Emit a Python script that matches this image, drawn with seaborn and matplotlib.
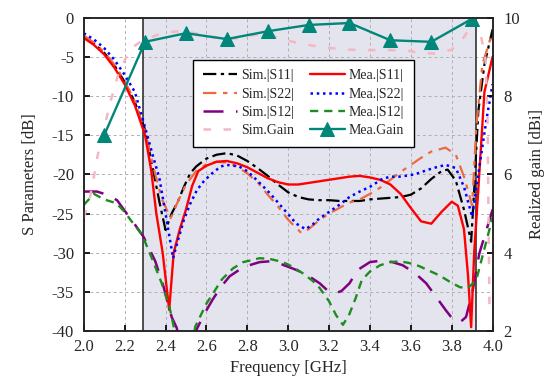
import numpy as np
import pandas as pd
import matplotlib
matplotlib.use("Agg")
import matplotlib.pyplot as plt
import seaborn as sns

# ---- data ----
f_sim_s11 = [2.0, 2.05, 2.1, 2.15, 2.2, 2.25, 2.3, 2.34, 2.37, 2.40, 2.43, 2.46, 2.49, 2.52, 2.55, 2.6, 2.65, 2.7,
             2.75, 2.8, 2.85, 2.9, 2.95, 3.0, 3.05, 3.1, 3.15, 3.2, 3.25, 3.3, 3.35, 3.4, 3.45, 3.5, 3.55, 3.6,
             3.65, 3.7, 3.75, 3.78, 3.82, 3.86, 3.895, 3.91, 3.93, 3.96, 4.0]
sim_s11 = [-2.4, -3.3, -4.5, -6.1, -8.2, -10.8, -14.3, -19.5, -23.5, -27.1, -25.0, -23.5, -21.6, -19.9, -19.0, -18.0,
           -17.5, -17.3, -17.6, -18.3, -19.2, -20.2, -21.3, -22.3, -22.9, -23.2, -23.3, -23.3, -23.4, -23.4, -23.4,
           -23.2, -23.1, -23.0, -22.9, -22.6, -21.8, -20.6, -19.6, -19.4, -20.8, -24.5, -28.6, -22.0, -12.0, -6.0, -1.5]

f_mea_s11 = [2.0, 2.05, 2.1, 2.15, 2.2, 2.25, 2.3, 2.33, 2.355, 2.386, 2.418, 2.44, 2.47, 2.5, 2.53, 2.56, 2.6, 2.65,
             2.7, 2.75, 2.8, 2.85, 2.9, 2.95, 3.0, 3.05, 3.1, 3.15, 3.2, 3.25, 3.3, 3.35, 3.4, 3.45, 3.5, 3.55, 3.6,
             3.65, 3.7, 3.75, 3.8, 3.83, 3.86, 3.88, 3.895, 3.91, 3.93, 3.96, 4.0]
mea_s11 = [-2.6, -3.5, -4.7, -6.4, -8.5, -11.2, -15.0, -19.5, -25.0, -30.0, -37.3, -30.0, -27.0, -24.5, -21.5, -19.6,
           -18.9, -18.4, -18.3, -18.6, -19.1, -19.8, -20.5, -21.0, -21.3, -21.3, -21.1, -20.9, -20.7, -20.5, -20.3,
           -20.2, -20.4, -20.7, -21.3, -22.5, -24.3, -26.0, -26.3, -24.8, -23.5, -24.0, -27.0, -33.0, -39.5, -30.0,
           -22.0, -9.5, -5.0]

f_sim_s22 = [2.0, 2.05, 2.1, 2.15, 2.2, 2.25, 2.3, 2.34, 2.38, 2.425, 2.46, 2.5, 2.55, 2.6, 2.65, 2.7, 2.75, 2.8,
             2.85, 2.9, 2.95, 3.0, 3.065, 3.1, 3.15, 3.2, 3.25, 3.3, 3.35, 3.4, 3.45, 3.5, 3.55, 3.6, 3.65, 3.7,
             3.77, 3.82, 3.86, 3.9, 3.92, 3.95, 4.0]
sim_s22 = [-2.3, -3.2, -4.4, -6.0, -8.1, -10.7, -14.5, -19.0, -23.0, -25.6, -23.5, -21.3, -19.6, -18.7, -18.4, -18.5,
           -19.0, -19.9, -21.0, -22.6, -24.1, -25.8, -27.5, -27.0, -25.9, -25.0, -24.3, -23.6, -23.2, -22.5, -21.7,
           -20.7, -19.7, -18.8, -17.9, -17.1, -16.6, -17.5, -20.3, -24.0, -14.0, -6.0, -1.8]

f_mea_s22 = [2.0, 2.05, 2.1, 2.15, 2.2, 2.25, 2.29, 2.34, 2.37, 2.40, 2.437, 2.46, 2.49, 2.52, 2.554, 2.59, 2.627,
             2.67, 2.7, 2.76, 2.8, 2.845, 2.91, 2.95, 2.99, 3.04, 3.085, 3.12, 3.154, 3.2, 3.25, 3.3, 3.35, 3.4,
             3.46, 3.5, 3.545, 3.6, 3.63, 3.71, 3.77, 3.82, 3.86, 3.9, 3.93, 3.97, 4.0]
mea_s22 = [-2.0, -2.8, -3.9, -5.4, -7.3, -9.5, -13.1, -17.8, -20.5, -25.0, -30.7, -28.5, -25.8, -23.8, -22.0, -20.8,
           -19.9, -19.0, -18.8, -19.0, -19.6, -20.7, -22.4, -23.6, -24.8, -26.3, -27.0, -26.4, -25.6, -24.8, -23.9,
           -22.9, -22.2, -21.6, -20.6, -20.3, -20.3, -20.1, -19.9, -19.2, -18.8, -19.2, -21.6, -25.4, -20.0, -13.0,
           -8.5]

f_sim_s12 = [2.0, 2.065, 2.1, 2.163, 2.21, 2.25, 2.293, 2.35, 2.39, 2.43, 2.455, 2.48, 2.52, 2.55, 2.59, 2.63, 2.67,
             2.714, 2.76, 2.81, 2.86, 2.91, 2.95, 2.99, 3.04, 3.09, 3.154, 3.2, 3.227, 3.26, 3.3, 3.34, 3.4, 3.46,
             3.51, 3.56, 3.62, 3.675, 3.72, 3.77, 3.8, 3.84, 3.87, 3.9, 3.935, 3.97, 4.0]
sim_s12 = [-22.2, -22.2, -22.5, -23.3, -25.0, -26.4, -28.0, -31.1, -34.3, -38.2, -39.6, -43.0, -43.0, -39.9, -37.8,
           -36.0, -34.4, -33.0, -32.2, -31.6, -31.2, -31.1, -31.3, -31.7, -32.2, -32.8, -33.9, -35.0, -35.2, -34.9,
           -33.9, -32.2, -31.2, -31.0, -31.2, -31.6, -32.6, -33.9, -35.5, -37.3, -38.3, -38.9, -38.2, -35.2, -30.1,
           -27.1, -24.5]

f_mea_s12 = [2.0, 2.05, 2.1, 2.16, 2.2, 2.24, 2.285, 2.33, 2.38, 2.42, 2.44, 2.47, 2.52, 2.546, 2.6, 2.63, 2.676,
             2.73, 2.78, 2.83, 2.86, 2.91, 2.96, 3.0, 3.07, 3.12, 3.154, 3.2, 3.235, 3.268, 3.3, 3.33, 3.36, 3.4,
             3.45, 3.5, 3.545, 3.59, 3.64, 3.69, 3.74, 3.79, 3.84, 3.88, 3.92, 3.95, 3.97, 4.0]
mea_s12 = [-23.9, -22.5, -23.2, -23.7, -24.8, -26.2, -27.7, -30.5, -33.8, -37.0, -39.4, -43.0, -43.0, -39.4, -36.5,
           -35.3, -33.4, -32.0, -31.2, -30.9, -30.7, -30.8, -31.1, -31.5, -32.6, -33.6, -34.5, -36.2, -38.0, -39.2,
           -37.8, -35.8, -33.5, -32.4, -31.6, -31.2, -31.1, -31.3, -31.7, -32.3, -32.9, -33.7, -34.4, -34.5, -33.5,
           -30.5, -28.5, -25.5]

f_sim_gain = [2.0, 2.03, 2.05, 2.065, 2.085, 2.106, 2.125, 2.147, 2.17, 2.2, 2.22, 2.25, 2.277, 2.32, 2.367, 2.44,
              2.5, 2.56, 2.63, 2.7, 2.76, 2.82, 2.88, 2.94, 2.99, 3.05, 3.1, 3.16, 3.23, 3.3, 3.37, 3.45, 3.5, 3.59,
              3.64, 3.72, 3.8, 3.83, 3.86, 3.89, 3.91, 3.94, 3.965, 3.975, 3.98, 3.985]
sim_gain = [4.9, 5.4, 5.95, 6.4, 6.9, 7.3, 7.75, 8.15, 8.57, 8.9, 9.12, 9.28, 9.38, 9.48, 9.57, 9.64, 9.65, 9.58,
            9.5, 9.46, 9.47, 9.54, 9.6, 9.5, 9.42, 9.35, 9.3, 9.25, 9.21, 9.18, 9.17, 9.17, 9.17, 9.15, 9.1, 9.08,
            9.18, 9.35, 9.5, 9.75, 9.93, 9.6, 9.0, 7.5, 5.0, 2.5]

f_mea_gain = [2.1, 2.3, 2.5, 2.7, 2.9, 3.1, 3.3, 3.5, 3.7, 3.9]
mea_gain = [7.0, 9.38, 9.6, 9.45, 9.65, 9.81, 9.86, 9.42, 9.38, 9.97]

band = [2.29, 3.92]

sns.set_theme(style="ticks")
plt.rcParams["font.family"] = ["Liberation Serif", "DejaVu Serif"]
plt.rcParams["axes.unicode_minus"] = False

fig, ax = plt.subplots(figsize=(5.51, 3.81), dpi=100)
fig.subplots_adjust(left=0.152, right=0.894, bottom=0.131, top=0.954)
ax2 = ax.twinx()

ax.axvspan(band[0], band[1], color="#e3e4ee", zorder=0, lw=0)
for b in band:
    ax.axvline(b, color="#333333", lw=1.2, zorder=1)

lw = 1.6
sns.lineplot(x=f_sim_s11, y=sim_s11, ax=ax, color="black", lw=lw, linestyle=(0, (6, 2, 1.5, 2)),
             label="Sim.|S11|", sort=False)
sns.lineplot(x=f_sim_s22, y=sim_s22, ax=ax, color="#ef6a40", lw=lw, linestyle=(0, (6, 3, 2, 3)),
             label="Sim.|S22|", sort=False)
sns.lineplot(x=f_sim_s12, y=sim_s12, ax=ax, color="#800080", lw=1.8, linestyle=(0, (8, 5)),
             label="Sim.|S12|", sort=False)
sns.lineplot(x=f_mea_s11, y=mea_s11, ax=ax, color="#ff0000", lw=1.7, linestyle="-",
             label="Mea.|S11|", sort=False)
sns.lineplot(x=f_mea_s22, y=mea_s22, ax=ax, color="#0000ff", lw=1.8, linestyle=(0, (1, 1.5)),
             label="Mea.|S22|", sort=False)
sns.lineplot(x=f_mea_s12, y=mea_s12, ax=ax, color="#1e8c1e", lw=1.7, linestyle=(0, (3.5, 2.5)),
             label="Mea.|S12|", sort=False)

sns.lineplot(x=f_sim_gain, y=sim_gain, ax=ax2, color="#f5b7c2", lw=1.8, linestyle=(0, (3, 5)),
             label="Sim.Gain", sort=False)
sns.lineplot(x=f_mea_gain, y=mea_gain, ax=ax2, color="#00877a", lw=1.7, marker="^", markersize=10,
             markeredgecolor="#00877a", label="Mea.Gain", sort=False)

ax.set_xlim(2.0, 4.0)
ax.set_ylim(-40, 0)
ax2.set_ylim(2, 10)
ax.set_xticks(np.arange(2.0, 4.01, 0.2))
ax.set_xticklabels([f"{v:.1f}" for v in np.arange(2.0, 4.01, 0.2)])
ax.set_yticks(np.arange(-40, 1, 5))
ax2.set_yticks([2, 4, 6, 8, 10])

ax.grid(True, color="#b0b0b0", linestyle=(0, (3, 3)), lw=0.7)
ax.set_axisbelow(True)
ax.tick_params(axis="x", direction="in", labelsize=12, length=4, pad=6, color="black")
ax.tick_params(axis="y", direction="in", labelsize=12, length=4, pad=7, color="black")
ax2.tick_params(direction="in", labelsize=12, length=4, pad=8, color="black")
for a in (ax, ax2):
    for s in a.spines.values():
        s.set_color("#222222")
        s.set_linewidth(1.1)

ax.set_xlabel("Frequency [GHz]", fontsize=12, labelpad=3)
ax.set_ylabel("S Parameters [dB]", fontsize=12, labelpad=10)
ax2.set_ylabel("Realized gain [dBi]", fontsize=12, labelpad=6)

h1, l1 = ax.get_legend_handles_labels()
h2, l2 = ax2.get_legend_handles_labels()
hd = dict(zip(l1 + l2, h1 + h2))
if ax.get_legend() is not None:
    ax.get_legend().remove()
order = ["Sim.|S11|", "Sim.|S22|", "Sim.|S12|", "Sim.Gain", "Mea.|S11|", "Mea.|S22|", "Mea.|S12|", "Mea.Gain"]
leg = ax2.legend([hd[k] for k in order], order, ncol=2, loc="upper left", bbox_to_anchor=(0.267, 0.866),
                 borderaxespad=0, fontsize=10, frameon=True, fancybox=False, edgecolor="black", framealpha=1,
                 handlelength=2.5, columnspacing=1.1, labelspacing=0.38, handletextpad=0.3, borderpad=0.7)
leg.get_frame().set_linewidth(1.0)

fig.savefig("out.png", dpi=100)
plt.close(fig)
